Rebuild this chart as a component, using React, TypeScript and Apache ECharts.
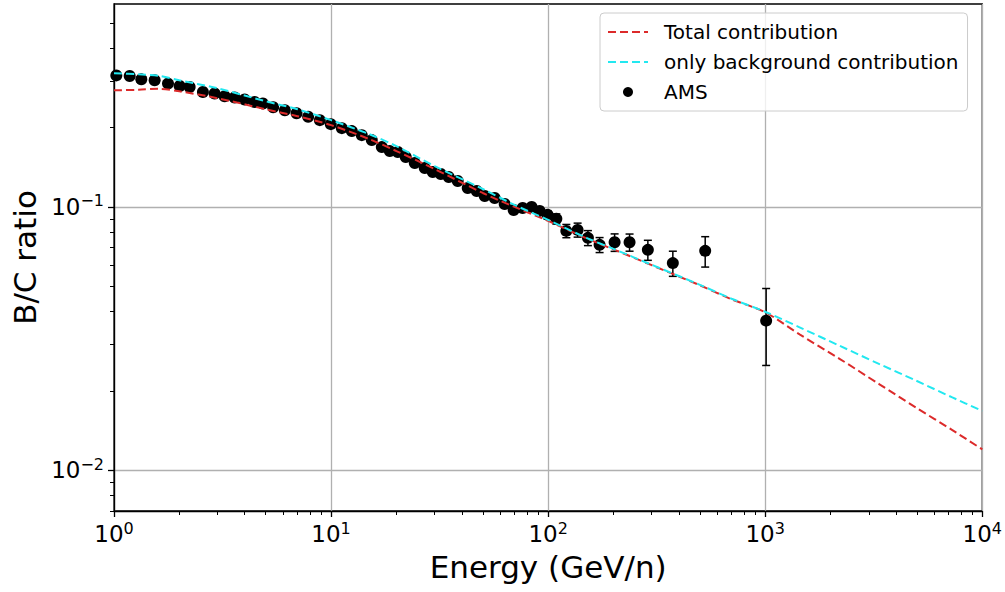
import React, { useEffect, useRef } from 'react';
import * as echarts from 'echarts';

// AMS data points (energy in GeV/n, B/C ratio, symmetric error)
const amsEnergy = [
  1.025, 1.181, 1.336, 1.539, 1.773, 2.006, 2.231, 2.568, 2.908, 3.233,
  3.594, 3.997, 4.443, 4.851, 5.41, 6.125, 6.934, 7.843, 8.877, 9.97,
  11.21, 12.46, 13.85, 15.4, 17.13, 18.64, 20.29, 22.08, 24.3, 27.01,
  29.4, 32.01, 34.83, 38.32, 42.61, 46.87, 51.03, 56.71, 63.06, 69.37,
  76.3, 83.96, 91.4, 99.47, 109.1, 121.3, 136.7, 152.5, 172.6, 202.4,
  237.2, 288.0, 375.4, 529.1, 1010,
];
const amsRatio = [
  0.316, 0.3142, 0.3053, 0.3027, 0.2941, 0.288, 0.2855, 0.2733, 0.2696, 0.2633,
  0.2603, 0.2559, 0.2505, 0.247, 0.2392, 0.233, 0.227, 0.2202, 0.2136, 0.2063,
  0.1992, 0.1941, 0.1874, 0.1794, 0.1688, 0.163, 0.1616, 0.1547, 0.1468, 0.1405,
  0.1357, 0.1334, 0.1299, 0.1255, 0.118, 0.115, 0.1101, 0.1082, 0.1026, 0.0974,
  0.0991, 0.1, 0.0966, 0.0933, 0.0901, 0.0811, 0.0818, 0.0763, 0.0718, 0.0734,
  0.0734, 0.0687, 0.0612, 0.0681, 0.037,
];
const amsError = [
  0.004, 0.004, 0.004, 0.004, 0.004, 0.004, 0.004, 0.004, 0.004, 0.004,
  0.003, 0.003, 0.003, 0.003, 0.003, 0.003, 0.003, 0.003, 0.003, 0.003,
  0.003, 0.003, 0.003, 0.003, 0.003, 0.003, 0.003, 0.003, 0.003, 0.003,
  0.003, 0.003, 0.003, 0.003, 0.003, 0.003, 0.003, 0.003, 0.003, 0.003,
  0.003, 0.003, 0.003, 0.0035, 0.004, 0.0047, 0.005, 0.005, 0.0047, 0.0056,
  0.0055, 0.006, 0.0067, 0.009, 0.012,
];

// Model curves
const modelEnergy = [
  1, 1.3, 1.6, 2, 3, 5, 7, 10, 15, 20, 30, 50, 70, 100, 150, 200, 300, 500, 700,
  1000, 1440, 2200, 3360, 4950, 7280, 10000,
];
const totalContribution = [
  0.2774, 0.2787, 0.2811, 0.275, 0.2588, 0.235, 0.2212, 0.2045, 0.181, 0.163,
  0.1393, 0.113, 0.1, 0.0885, 0.076, 0.069, 0.0601, 0.0504, 0.0446,
  0.0398, 0.0328, 0.0265, 0.0212, 0.0173, 0.0142, 0.012,
];
const backgroundContribution = [
  0.3217, 0.319, 0.315, 0.3027, 0.2823, 0.252, 0.235, 0.2136, 0.189, 0.1702,
  0.143, 0.117, 0.1018, 0.0893, 0.0763, 0.0693, 0.0603, 0.0506, 0.0448,
  0.04, 0.0349, 0.0297, 0.0253, 0.0219, 0.0189, 0.0168,
];

// Ticks
const xMajorTicks = [1, 10, 100, 1000, 10000];
const xMinorTicks = [
  2, 3, 4, 5, 6, 7, 8, 9, 20, 30, 40, 50, 60, 70, 80, 90,
  200, 300, 400, 500, 600, 700, 800, 900, 2000, 3000, 4000, 5000, 6000, 7000, 8000, 9000,
];
const yMajorTicks = [0.01, 0.1];
const yMinorTicks = [
  0.007, 0.008, 0.009, 0.02, 0.03, 0.04, 0.05, 0.06, 0.07, 0.08, 0.09, 0.2, 0.3, 0.4, 0.5,
];

const legendNames = ['Total contribution', 'only background contribution', 'AMS'];

const FONT = 'DejaVu Sans';
const RED = '#dc2a2a';
const CYAN = '#22e8f0';

const powLabel = (v: number) => {
  const e = Math.round(Math.log10(v));
  const s = e < 0 ? '\u2212' + String(-e) : String(e);
  return '{b|10}{s|' + s + '}';
};

const richStyle = {
  b: { fontSize: 23, fontFamily: FONT, color: '#000', lineHeight: 28 },
  s: { fontSize: 16, fontFamily: FONT, color: '#000', lineHeight: 16, verticalAlign: 'top' },
};

export default function App() {
  const ref = useRef<HTMLDivElement>(null);

  useEffect(() => {
    if (!ref.current) return;
    const chart = echarts.init(ref.current, null, { renderer: 'svg' });

    const amsPoints = amsEnergy.map((e, i) => [e, amsRatio[i]]);
    const errData = amsEnergy.map((e, i) => [e, amsRatio[i] - amsError[i], amsRatio[i] + amsError[i]]);

    const option: any = {
      animation: false,
      backgroundColor: '#fff',
      grid: {
        left: 114,
        right: 22,
        top: 4,
        bottom: 81,
        show: true,
        borderColor: '#000',
        borderWidth: 1.3,
        backgroundColor: 'transparent',
      },
      legend: {
        data: [
          { name: legendNames[0], itemStyle: { opacity: 0 } },
          { name: legendNames[1], itemStyle: { opacity: 0 } },
          { name: legendNames[2] },
        ],
        orient: 'vertical',
        left: 600,
        top: 13,
        padding: [9, 9, 9, 7],
        itemWidth: 40,
        itemHeight: 10,
        itemGap: 10,
        selectedMode: false,
        backgroundColor: 'rgba(255,255,255,0.8)',
        borderColor: '#cccccc',
        borderWidth: 1,
        borderRadius: 4,
        textStyle: {
          fontSize: 20,
          fontFamily: FONT,
          color: '#000',
          lineHeight: 20,
          padding: [0, 0, 0, 11],
        },
      },
      xAxis: [
        {
          type: 'log',
          logBase: 10,
          min: 1,
          max: 10000,
          position: 'bottom',
          name: 'Energy (GeV/n)',
          nameLocation: 'middle',
          nameGap: 40,
          nameTextStyle: { fontSize: 31, fontFamily: FONT, color: '#000' },
          axisLine: { show: true, lineStyle: { color: '#000', width: 1.3 } },
          axisTick: {
            show: true,
            inside: false,
            length: 6,
            customValues: xMajorTicks,
            lineStyle: { color: '#000', width: 1.3 },
          },
          axisLabel: {
            customValues: xMajorTicks,
            formatter: powLabel,
            rich: richStyle,
            margin: 9,
          },
          splitLine: { show: true, lineStyle: { color: '#b0b0b0', width: 1.3 } },
          minorTick: { show: false },
          minorSplitLine: { show: false },
        },
        {
          type: 'log',
          logBase: 10,
          min: 1,
          max: 10000,
          position: 'bottom',
          axisLine: { show: false },
          axisTick: {
            show: true,
            inside: false,
            length: 4,
            customValues: xMinorTicks,
            lineStyle: { color: '#000', width: 1 },
          },
          axisLabel: { show: false },
          splitLine: { show: false },
        },
      ],
      yAxis: [
        {
          type: 'log',
          logBase: 10,
          min: 0.007,
          max: 0.59,
          position: 'left',
          name: 'B/C ratio',
          nameLocation: 'middle',
          nameGap: 72,
          nameTextStyle: { fontSize: 31, fontFamily: FONT, color: '#000' },
          axisLine: { show: true, lineStyle: { color: '#000', width: 1.3 } },
          axisTick: {
            show: true,
            inside: false,
            length: 6,
            customValues: yMajorTicks,
            lineStyle: { color: '#000', width: 1.3 },
          },
          axisLabel: {
            customValues: yMajorTicks,
            formatter: powLabel,
            rich: richStyle,
            margin: 10,
          },
          splitLine: { show: true, lineStyle: { color: '#b0b0b0', width: 1.3 } },
        },
        {
          type: 'log',
          logBase: 10,
          min: 0.007,
          max: 0.59,
          position: 'left',
          axisLine: { show: false },
          axisTick: {
            show: true,
            inside: false,
            length: 4,
            customValues: yMinorTicks,
            lineStyle: { color: '#000', width: 1 },
          },
          axisLabel: { show: false },
          splitLine: { show: false },
        },
      ],
      series: [
        {
          name: 'AMS errors',
          type: 'custom',
          xAxisIndex: 0,
          yAxisIndex: 0,
          z: 2,
          encode: { x: 0, y: [1, 2] },
          data: errData,
          renderItem: (params: any, api: any) => {
            const x = api.value(0);
            const lo = api.coord([x, api.value(1)]);
            const hi = api.coord([x, api.value(2)]);
            const cap = 4;
            const style = { stroke: '#000', lineWidth: 1.5 };
            return {
              type: 'group',
              children: [
                { type: 'line', shape: { x1: lo[0], y1: lo[1], x2: hi[0], y2: hi[1] }, style },
                { type: 'line', shape: { x1: lo[0] - cap, y1: lo[1], x2: lo[0] + cap, y2: lo[1] }, style },
                { type: 'line', shape: { x1: hi[0] - cap, y1: hi[1], x2: hi[0] + cap, y2: hi[1] }, style },
              ],
            };
          },
        },
        {
          name: legendNames[2],
          type: 'scatter',
          xAxisIndex: 0,
          yAxisIndex: 0,
          z: 3,
          symbol: 'circle',
          symbolSize: 12,
          itemStyle: { color: '#000', opacity: 1 },
          data: amsPoints,
        },
        {
          name: legendNames[0],
          type: 'line',
          xAxisIndex: 0,
          yAxisIndex: 0,
          z: 4,
          symbol: 'none',
          showSymbol: false,
          smooth: 0.3,
          itemStyle: { color: RED },
          lineStyle: { color: RED, width: 2, type: [8, 4] },
          data: modelEnergy.map((e, i) => [e, totalContribution[i]]),
        },
        {
          name: legendNames[1],
          type: 'line',
          xAxisIndex: 0,
          yAxisIndex: 0,
          z: 4,
          symbol: 'none',
          showSymbol: false,
          smooth: 0.3,
          itemStyle: { color: CYAN },
          lineStyle: { color: CYAN, width: 2, type: [8, 4] },
          data: modelEnergy.map((e, i) => [e, backgroundContribution[i]]),
        },
      ],
    };

    chart.setOption(option);
    return () => {
      chart.dispose();
    };
  }, []);

  return (
    <div
      ref={ref}
      style={{ position: 'fixed', left: 0, top: 0, width: 1005, height: 592, background: '#fff' }}
    />
  );
}
